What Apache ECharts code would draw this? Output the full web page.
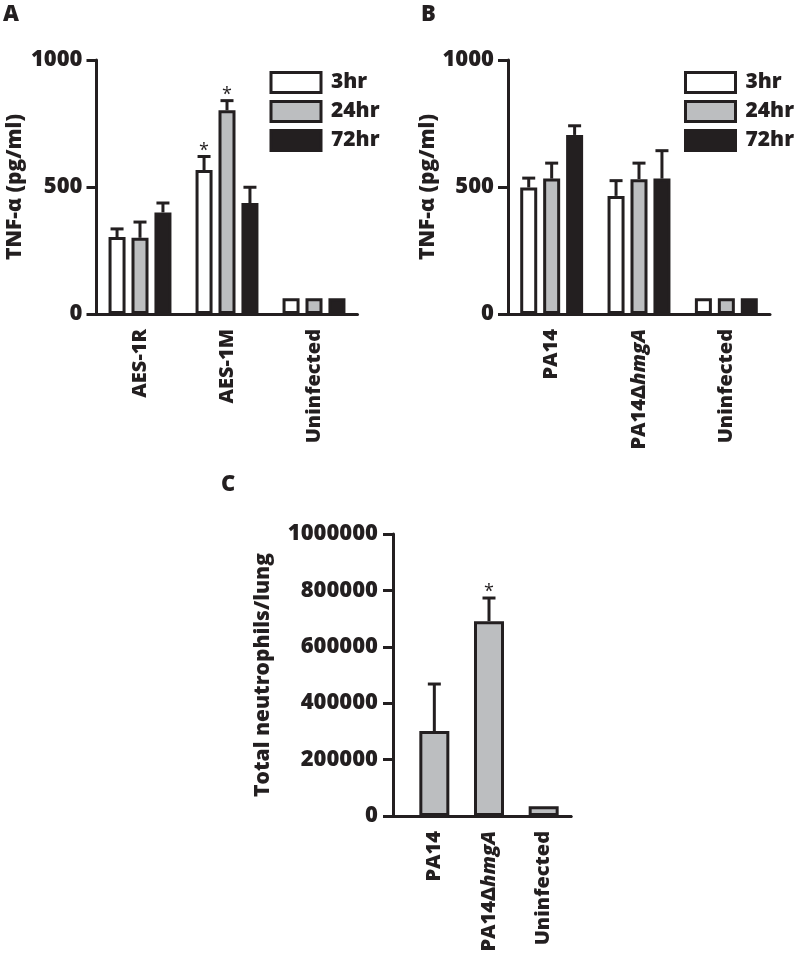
<!DOCTYPE html>
<html><head><meta charset="utf-8">
<script src="https://cdn.jsdelivr.net/npm/echarts@6/dist/echarts.min.js"></script>
<style>html,body{margin:0;padding:0;background:#fff}#c{width:795px;height:963px}</style>
</head><body><div id="c"></div>
<script>
// ---------- DATA ----------
const seriesNames = ['3hr', '24hr', '72hr'];

const categoriesA = ['AES-1R', 'AES-1M', 'Uninfected'];
const tnfA_3hr  = [303, 567, 62];
const tnfA_24hr = [300, 802, 62];
const tnfA_72hr = [400, 437, 62];
const errA_3hr  = [32, 53, 0];
const errA_24hr = [62, 38, 0];
const errA_72hr = [37, 62, 0];
const starA_3hr  = ['', '*', ''];
const starA_24hr = ['', '*', ''];
const starA_72hr = ['', '', ''];

const categoriesB = ['PA14', 'PA14ΔhmgA', 'Uninfected'];
const tnfB_3hr  = [498, 465, 62];
const tnfB_24hr = [533, 531, 62];
const tnfB_72hr = [705, 533, 62];
const errB_3hr  = [37, 60, 0];
const errB_24hr = [61, 63, 0];
const errB_72hr = [36, 110, 0];

const categoriesC = ['PA14', 'PA14ΔhmgA', 'Uninfected'];
const neutroC = [301000, 691000, 35000];
const errC    = [167000, 82000, 0];
const starC   = ['', '*', ''];

const ticksTNF = [0, 500, 1000];
const ticksNeutro = [0, 200000, 400000, 600000, 800000, 1000000];

// ---------- STYLE ----------
const INK = '#231f20';
const GRAY = '#bcbec0';
const FONT = '"Open Sans", "DejaVu Sans", sans-serif';
const W = 800;
const fills = ['#ffffff', GRAY, INK];
const BW = 17, GAP = 0.35;

function catLabel(v) {
  if (v.indexOf('Δ') >= 0) {
    const parts = v.split('Δ');
    return '{n|' + parts[0] + 'Δ}{i|' + parts[1] + '}';
  }
  return '{n|' + v + '}';
}
const catRich = {
  n: { fontFamily: FONT, fontWeight: W, fontSize: 20, color: INK },
  i: { fontFamily: FONT, fontWeight: W, fontStyle: 'italic', fontSize: 20, color: INK }
};

function xAxisCat(gridIndex, cats) {
  return {
    type: 'category', gridIndex, data: cats,
    axisLine: { lineStyle: { color: INK, width: 3 } },
    axisTick: { alignWithLabel: true, length: 8, lineStyle: { color: INK, width: 3 } },
    axisLabel: { rotate: 90, margin: 15, formatter: catLabel, rich: catRich },
    splitLine: { show: false }
  };
}
function yAxisVal(gridIndex, max, interval, name, nameGap, offset, labelMargin, labelSize) {
  return {
    type: 'value', gridIndex, min: 0, max, interval, offset: offset || 0,
    name, nameLocation: 'middle', nameGap, nameRotate: 90,
    nameTextStyle: { fontFamily: FONT, fontWeight: W, fontSize: 21, color: INK },
    axisLine: { show: true, lineStyle: { color: INK, width: 3 } },
    axisTick: { show: true, length: 10, lineStyle: { color: INK, width: 3 } },
    axisLabel: { margin: labelMargin, fontFamily: FONT, fontWeight: W, fontSize: labelSize, color: INK,
                 formatter: v => String(v) },
    splitLine: { show: false }
  };
}

function barSeries(name, idx, xi, yi, data, bw) {
  return {
    type: 'bar', name, xAxisIndex: xi, yAxisIndex: yi, data,
    barWidth: bw, barGap: (GAP * 100) + '%',
    itemStyle: { color: fills[idx], borderColor: INK, borderWidth: 3 },
    z: 2
  };
}

function errSeries(name, slot, count, xi, yi, vals, errs, stars, bw) {
  const data = vals.map((v, i) => [i, v, errs[i]]);
  return {
    type: 'custom', name, xAxisIndex: xi, yAxisIndex: yi, data, z: 3,
    encode: { x: 0, y: 1 }, clip: false, silent: true,
    renderItem: function (params, api) {
      const i = api.value(0), v = api.value(1), e = api.value(2);
      const step = bw * (1 + GAP);
      const dx = (slot - (count - 1) / 2) * step;
      const p0 = api.coord([i, v]);
      const p1 = api.coord([i, v + e]);
      const x = p0[0] + dx;
      const children = [];
      if (e > 0) {
        children.push({ type: 'line', shape: { x1: x, y1: p0[1], x2: x, y2: p1[1] },
                        style: { stroke: INK, lineWidth: 3 } });
        children.push({ type: 'line', shape: { x1: x - 6.5, y1: p1[1], x2: x + 6.5, y2: p1[1] },
                        style: { stroke: INK, lineWidth: 3 } });
      }
      const s = stars ? stars[params.dataIndex] : '';
      if (s) {
        children.push({ type: 'text', x: x, y: p1[1] + 3,
          style: { text: s, fill: INK, font: 'normal 18px ' + FONT, align: 'center', verticalAlign: 'bottom' } });
      }
      return { type: 'group', children };
    }
  };
}

const legendBase = {
  orient: 'vertical', icon: 'rect', itemWidth: 50, itemHeight: 20, itemGap: 6, padding: 0,
  data: seriesNames,
  itemStyle: { borderColor: INK, borderWidth: 3 },
  textStyle: { fontFamily: FONT, fontWeight: W, fontSize: 21, color: INK, lineHeight: 22, padding: [0, 0, 0, 5] },
  selectedMode: false
};

const titleStyle = { fontFamily: FONT, fontWeight: W, fontSize: 22, color: INK };

const option = {
  animation: false,
  backgroundColor: '#ffffff',
  title: [
    { text: 'A', left: 3, top: 4, padding: 0, textStyle: titleStyle },
    { text: 'B', left: 421, top: 4, padding: 0, textStyle: titleStyle },
    { text: 'C', left: 221, top: 474, padding: 0, textStyle: titleStyle }
  ],
  legend: [
    Object.assign({}, legendBase, { left: 269.5, top: 71 }),
    Object.assign({}, legendBase, { left: 684, top: 71 })
  ],
  grid: [
    { left: 96.5, top: 60, width: 261, height: 254 },
    { left: 508, top: 60, width: 262, height: 254 },
    { left: 407, top: 534, width: 164, height: 282 },
    { left: 393, top: 534, width: 178, height: 282 }
  ],
  xAxis: [
    xAxisCat(0, categoriesA),
    xAxisCat(1, categoriesB),
    xAxisCat(2, categoriesC),
    { type: 'value', gridIndex: 3, min: 0, max: 1, axisLine: { show: true, lineStyle: { color: INK, width: 3 } },
      axisTick: { show: false }, axisLabel: { show: false }, splitLine: { show: false } }
  ],
  yAxis: [
    yAxisVal(0, ticksTNF[ticksTNF.length - 1], ticksTNF[1] - ticksTNF[0], 'TNF-α (pg/ml)', 71, 0, 14, 22),
    yAxisVal(1, ticksTNF[ticksTNF.length - 1], ticksTNF[1] - ticksTNF[0], 'TNF-α (pg/ml)', 63, 0, 14, 22),
    yAxisVal(2, ticksNeutro[ticksNeutro.length - 1], ticksNeutro[1] - ticksNeutro[0], 'Total neutrophils/lung', 119, 14, 15, 22),
    { type: 'value', gridIndex: 3, min: 0, max: 1, show: false }
  ],
  series: [
    barSeries('3hr', 0, 0, 0, tnfA_3hr, BW),
    barSeries('24hr', 1, 0, 0, tnfA_24hr, BW),
    barSeries('72hr', 2, 0, 0, tnfA_72hr, BW),
    errSeries('3hr', 0, 3, 0, 0, tnfA_3hr, errA_3hr, starA_3hr, BW),
    errSeries('24hr', 1, 3, 0, 0, tnfA_24hr, errA_24hr, starA_24hr, BW),
    errSeries('72hr', 2, 3, 0, 0, tnfA_72hr, errA_72hr, starA_72hr, BW),

    barSeries('3hr', 0, 1, 1, tnfB_3hr, BW),
    barSeries('24hr', 1, 1, 1, tnfB_24hr, BW),
    barSeries('72hr', 2, 1, 1, tnfB_72hr, BW),
    errSeries('3hr', 0, 3, 1, 1, tnfB_3hr, errB_3hr, null, BW),
    errSeries('24hr', 1, 3, 1, 1, tnfB_24hr, errB_24hr, null, BW),
    errSeries('72hr', 2, 3, 1, 1, tnfB_72hr, errB_72hr, null, BW),

    { type: 'bar', name: 'neutrophils', xAxisIndex: 2, yAxisIndex: 2, data: neutroC, barWidth: 30,
      itemStyle: { color: GRAY, borderColor: INK, borderWidth: 3 } },
    errSeries('neutrophils', 0, 1, 2, 2, neutroC, errC, starC, 30)
  ]
};

const chart = echarts.init(document.getElementById('c'), null, { renderer: 'canvas' });
chart.setOption(option);
</script>
</body></html>
